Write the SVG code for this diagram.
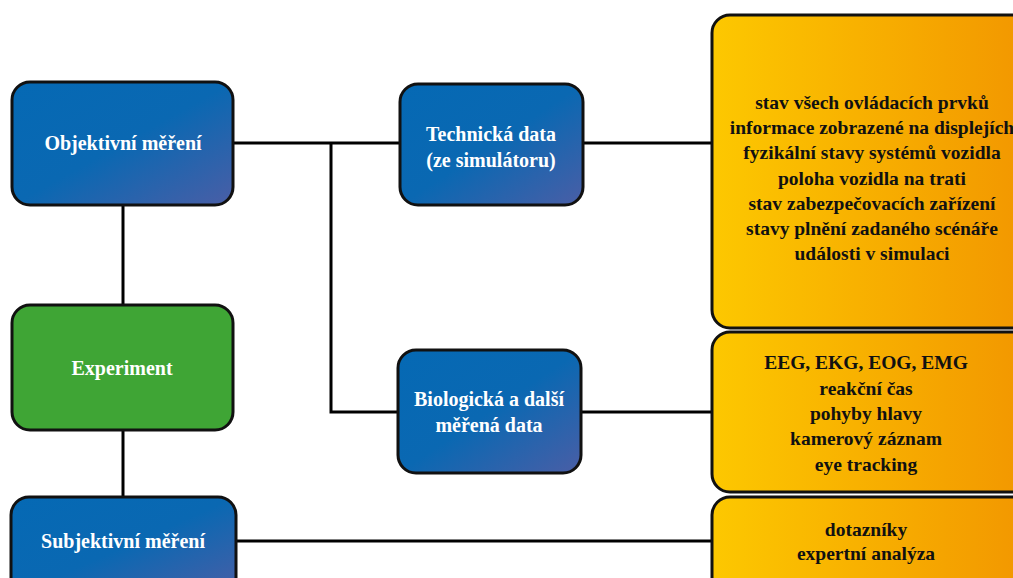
<svg xmlns="http://www.w3.org/2000/svg" width="1013" height="578" viewBox="0 0 1013 578">
<defs>
<linearGradient id="blue" x1="0" y1="0" x2="1" y2="1">
<stop offset="0" stop-color="#0569b4"/>
<stop offset="0.5" stop-color="#0a68b2"/>
<stop offset="1" stop-color="#4a5ea6"/>
</linearGradient>
<linearGradient id="orange" x1="0" y1="0" x2="1" y2="0">
<stop offset="0" stop-color="#fdc800"/>
<stop offset="1" stop-color="#f29600"/>
</linearGradient>
<style>
.box{stroke:#111;stroke-width:3}
.b{fill:url(#blue)}
.o{fill:url(#orange)}
.g{fill:#3fa535}
.wt{font-family:"Liberation Serif",serif;font-weight:bold;font-size:20px;fill:#fff;text-anchor:middle}
.kt{font-family:"Liberation Serif",serif;font-weight:bold;font-size:19.5px;fill:#111;text-anchor:middle}
.c{stroke:#000;stroke-width:3;fill:none}
</style>
</defs>
<g id="connectors">
<path class="c" d="M233 143H400"/>
<path class="c" d="M331 143V412H398"/>
<path class="c" d="M583 143H712"/>
<path class="c" d="M581 412H712"/>
<path class="c" d="M236 541H712"/>
<path class="c" d="M123 205V305"/>
<path class="c" d="M123 430V497"/>
</g>
<g id="objektivni">
<rect class="box b" x="12" y="82" width="221" height="123" rx="18"/>
<text class="wt" x="123" y="150">Objektivní měření</text>
</g>
<g id="experiment">
<rect class="box g" x="12" y="305" width="221" height="125" rx="18"/>
<text class="wt" x="122" y="375">Experiment</text>
</g>
<g id="subjektivni">
<rect class="box b" x="11" y="497" width="225" height="100" rx="18"/>
<text class="wt" x="123" y="548">Subjektivní měření</text>
</g>
<g id="technicka">
<rect class="box b" x="400" y="84" width="183" height="121" rx="18"/>
<text class="wt" x="491" y="141">Technická data</text>
<text class="wt" x="491" y="167">(ze simulátoru)</text>
</g>
<g id="biologicka">
<rect class="box b" x="398" y="350" width="183" height="123" rx="18"/>
<text class="wt" x="489" y="406">Biologická a další</text>
<text class="wt" x="489" y="432">měřená data</text>
</g>
<g id="technicka-detail">
<rect class="box o" x="712" y="15" width="320" height="313" rx="18"/>
<text class="kt" x="872" y="109">stav všech ovládacích prvků</text>
<text class="kt" x="872" y="134">informace zobrazené na displejích</text>
<text class="kt" x="872" y="159">fyzikální stavy systémů vozidla</text>
<text class="kt" x="872" y="185">poloha vozidla na trati</text>
<text class="kt" x="872" y="210">stav zabezpečovacích zařízení</text>
<text class="kt" x="872" y="235">stavy plnění zadaného scénáře</text>
<text class="kt" x="872" y="260">události v simulaci</text>
</g>
<g id="biologicka-detail">
<rect class="box o" x="712" y="332" width="320" height="160" rx="18"/>
<text class="kt" x="866" y="369">EEG, EKG, EOG, EMG</text>
<text class="kt" x="866" y="395">reakční čas</text>
<text class="kt" x="866" y="420">pohyby hlavy</text>
<text class="kt" x="866" y="445">kamerový záznam</text>
<text class="kt" x="866" y="471">eye tracking</text>
</g>
<g id="subjektivni-detail">
<rect class="box o" x="712" y="497" width="320" height="100" rx="18"/>
<text class="kt" x="866" y="536">dotazníky</text>
<text class="kt" x="866" y="560">expertní analýza</text>
</g>
</svg>
